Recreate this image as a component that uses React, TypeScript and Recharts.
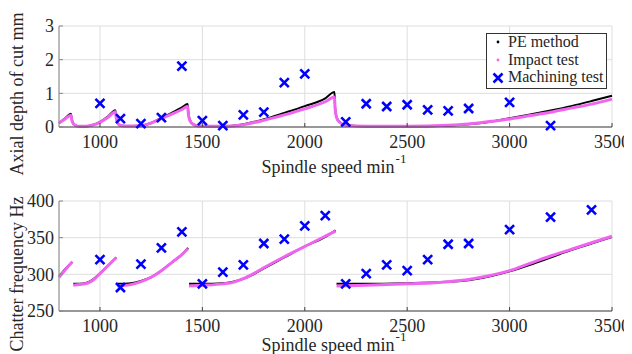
import React from "react";
import {
  ComposedChart,
  Line,
  Scatter,
  XAxis,
  YAxis,
  CartesianGrid,
  Legend,
} from "recharts";

// spindle speed grid for the stability lobes (top)
const lobeSpeed = [
  800, 830, 858, 862, 870, 880, 900, 930, 960, 1000, 1040, 1075, 1079, 1085,
  1095, 1120, 1200, 1250, 1300, 1350, 1400, 1428, 1432, 1440, 1455, 1480, 1600,
  1700, 1800, 1900, 2000, 2100, 2145, 2148, 2155, 2170, 2200, 2300, 2500, 2700,
  2800, 2900, 3000, 3100, 3200, 3300, 3400, 3500,
];
const peDepth = [
  0.12, 0.26, 0.39, 0.25, 0.1, 0.05, 0.02, 0.02, 0.05, 0.15, 0.32, 0.5, 0.3,
  0.15, 0.06, 0.03, 0.04, 0.12, 0.27, 0.42, 0.58, 0.68, 0.4, 0.2, 0.08, 0.03,
  0.02, 0.08, 0.23, 0.42, 0.62, 0.85, 1.04, 0.6, 0.3, 0.15, 0.05, 0.02, 0.02,
  0.04, 0.08, 0.15, 0.26, 0.37, 0.49, 0.62, 0.77, 0.93,
];
const impactDepth = [
  0.12, 0.24, 0.35, 0.22, 0.1, 0.05, 0.02, 0.02, 0.05, 0.14, 0.29, 0.45, 0.28,
  0.14, 0.06, 0.03, 0.04, 0.12, 0.25, 0.38, 0.52, 0.61, 0.36, 0.18, 0.08, 0.03,
  0.02, 0.07, 0.2, 0.36, 0.54, 0.75, 0.89, 0.55, 0.28, 0.14, 0.05, 0.02, 0.02,
  0.05, 0.09, 0.16, 0.24, 0.34, 0.44, 0.56, 0.68, 0.83,
];

// chatter frequency curves (bottom), null = break between lobes
const freqSpeed = [
  800, 830, 865, 868, 870, 900, 940, 970, 1000, 1040, 1080, 1082, 1085, 1150,
  1200, 1250, 1300, 1350, 1400, 1430, 1432, 1435, 1500, 1600, 1650, 1700, 1750,
  1800, 1900, 2000, 2100, 2150, 2152, 2155, 2300, 2500, 2700, 2800, 2900, 3000,
  3100, 3200, 3300, 3400, 3500,
];
const peFreq = [
  297, 307, 317, null, 287, 287, 289, 294, 301, 312, 323, null, 287, 288, 291,
  296, 305, 316, 327, 336, null, 287, 287, 288, 290, 294, 300, 308, 323, 338,
  351, 360, null, 287, 287, 288, 290, 292, 297, 304, 313, 323, 333, 342, 351,
];
const impactFreq = [
  296, 306, 317, null, 285, 286, 288, 293, 301, 312, 323, null, 284, 286, 290,
  296, 305, 316, 327, 335, null, 284, 285, 287, 289, 294, 301, 309, 324, 338,
  352, 359, null, 284, 285, 287, 290, 293, 298, 305, 315, 325, 334, 343, 352,
];

// machining test points
const testSpeedDepth = [
  1000, 1100, 1200, 1300, 1400, 1500, 1600, 1700, 1800, 1900, 2000, 2200, 2300,
  2400, 2500, 2600, 2700, 2800, 3000, 3200,
];
const testDepth = [
  0.7, 0.25, 0.1, 0.28, 1.81, 0.19, 0.04, 0.36, 0.44, 1.32, 1.58, 0.15, 0.69,
  0.61, 0.66, 0.51, 0.48, 0.55, 0.73, 0.04,
];
const testSpeedFreq = [
  1000, 1100, 1200, 1300, 1400, 1500, 1600, 1700, 1800, 1900, 2000, 2100, 2200,
  2300, 2400, 2500, 2600, 2700, 2800, 3000, 3200, 3400,
];
const testFreq = [
  320, 282, 314, 336, 358, 287, 303, 313, 342, 348, 366, 380, 287, 301, 313,
  305, 320, 341, 342, 361, 378, 388,
];

const xTicks = [1000, 1500, 2000, 2500, 3000, 3500];
const depthTicks = [0, 1, 2, 3];
const freqTicks = [250, 300, 350, 400];

const MAGENTA = "#f064f0";
const BLUE = "#0000ff";
const TEXT = "#262626";
const serif = { fontFamily: "'Liberation Serif'" };

const peTop = lobeSpeed.map((s, i) => ({ speed: s, value: peDepth[i] }));
const impactTop = lobeSpeed.map((s, i) => ({ speed: s, value: impactDepth[i] }));
const testTop = testSpeedDepth.map((s, i) => ({ speed: s, value: testDepth[i] }));
const peBottom = freqSpeed.map((s, i) => ({ speed: s, value: peFreq[i] }));
const impactBottom = freqSpeed.map((s, i) => ({ speed: s, value: impactFreq[i] }));
const testBottom = testSpeedFreq.map((s, i) => ({ speed: s, value: testFreq[i] }));

const Cross = (props: any) => {
  const { cx, cy } = props;
  if (cx == null || cy == null) return null;
  const r = 4.5;
  return (
    <path
      d={`M${cx - r},${cy - r}L${cx + r},${cy + r}M${cx - r},${cy + r}L${cx + r},${cy - r}`}
      stroke={BLUE}
      strokeWidth={2.6}
      fill="none"
    />
  );
};

const XTick = ({ x, y, payload }: any) => (
  <g>
    <line x1={x} x2={x} y1={y - 8} y2={y - 12} stroke="#404040" />
    <text x={x} y={y} dy="0.71em" textAnchor="middle" fontSize={18} fill={TEXT} style={serif}>
      {payload.value}
    </text>
  </g>
);

const YTick = ({ x, y, payload }: any) => (
  <g>
    <line x1={x + 5} x2={x + 9} y1={y} y2={y} stroke="#888" />
    <text x={x} y={y} dy="0.355em" textAnchor="end" fontSize={18} fill={TEXT} style={serif}>
      {payload.value}
    </text>
  </g>
);

const xLabel = (baseline: number) => () => (
  <text x={334} y={baseline} textAnchor="middle" fontSize={18} fill={TEXT} style={serif}>
    Spindle speed min
    <tspan dx={1} dy={-10} fontSize={13}>
      -1
    </tspan>
  </text>
);

const yLabel = (text: string, cy: number) => () => (
  <text
    x={23}
    y={cy}
    transform={`rotate(-90 23 ${cy})`}
    textAnchor="middle"
    fontSize={18}
    fill={TEXT}
    style={serif}
  >
    {text}
  </text>
);

const renderLegend = () => (
  <svg width={121} height={56} style={{ display: "block" }}>
    <rect x={0.5} y={0.5} width={120} height={55} fill="#fff" stroke="#333" />
    <circle cx={12} cy={9} r={1.4} fill="#000" />
    <text x={22} y={14} fontSize={16} fill={TEXT} style={serif}>
      PE method
    </text>
    <circle cx={12} cy={27} r={1.4} fill={MAGENTA} />
    <text x={22} y={32} fontSize={16} fill={TEXT} style={serif}>
      Impact test
    </text>
    <Cross cx={12} cy={45} />
    <text x={22} y={49} fontSize={16} fill={TEXT} style={serif}>
      Machining test
    </text>
  </svg>
);

export default function App() {
  return (
    <div
      style={{
        position: "relative",
        width: 632,
        height: 354,
        margin: "-8px 0 0 -8px",
        background: "#fff",
      }}
    >
      <ComposedChart
        width={632}
        height={177}
        margin={{ top: 26, right: 20, bottom: 20, left: 0 }}
      >
        <CartesianGrid stroke="#dedede" />
        <XAxis
          dataKey="speed"
          type="number"
          domain={[800, 3500]}
          ticks={xTicks}
          height={30}
          tick={<XTick />}
          tickLine={false}
          axisLine={{ stroke: "#404040" }}
          label={xLabel(173)}
        />
        <YAxis
          dataKey="value"
          type="number"
          domain={[0, 3]}
          ticks={depthTicks}
          width={59}
          tick={<YTick />}
          tickLine={false}
          tickSize={3}
          axisLine={{ stroke: "#888" }}
          label={yLabel("Axial depth of cut  mm", 94)}
        />
        <Line
          data={peTop}
          dataKey="value"
          name="PE method"
          type="monotone"
          stroke="#000"
          strokeWidth={2}
          dot={false}
          activeDot={false}
          isAnimationActive={false}
        />
        <Line
          data={impactTop}
          dataKey="value"
          name="Impact test"
          type="monotone"
          stroke={MAGENTA}
          strokeWidth={3}
          dot={false}
          activeDot={false}
          isAnimationActive={false}
        />
        <Scatter
          data={testTop}
          dataKey="value"
          name="Machining test"
          shape={<Cross />}
          isAnimationActive={false}
        />
        <Legend
          layout="vertical"
          align="center"
          verticalAlign="middle"
          content={renderLegend}
          wrapperStyle={{ left: 486, top: 33, width: 121, height: 56 }}
        />
      </ComposedChart>

      <ComposedChart
        width={632}
        height={177}
        margin={{ top: 24, right: 20, bottom: 13, left: 0 }}
      >
        <CartesianGrid stroke="#dedede" />
        <XAxis
          dataKey="speed"
          type="number"
          domain={[800, 3500]}
          ticks={xTicks}
          height={30}
          tick={<XTick />}
          tickLine={false}
          axisLine={{ stroke: "#404040" }}
          label={xLabel(174)}
        />
        <YAxis
          dataKey="value"
          type="number"
          domain={[250, 400]}
          ticks={freqTicks}
          width={59}
          tick={<YTick />}
          tickLine={false}
          tickSize={3}
          axisLine={{ stroke: "#888" }}
          label={yLabel("Chatter frequency  Hz", 97)}
        />
        <Line
          data={peBottom}
          dataKey="value"
          type="monotone"
          stroke="#000"
          strokeWidth={2}
          dot={false}
          activeDot={false}
          connectNulls={false}
          isAnimationActive={false}
        />
        <Line
          data={impactBottom}
          dataKey="value"
          type="monotone"
          stroke={MAGENTA}
          strokeWidth={3}
          dot={false}
          activeDot={false}
          connectNulls={false}
          isAnimationActive={false}
        />
        <Scatter
          data={testBottom}
          dataKey="value"
          shape={<Cross />}
          isAnimationActive={false}
        />
      </ComposedChart>
    </div>
  );
}
